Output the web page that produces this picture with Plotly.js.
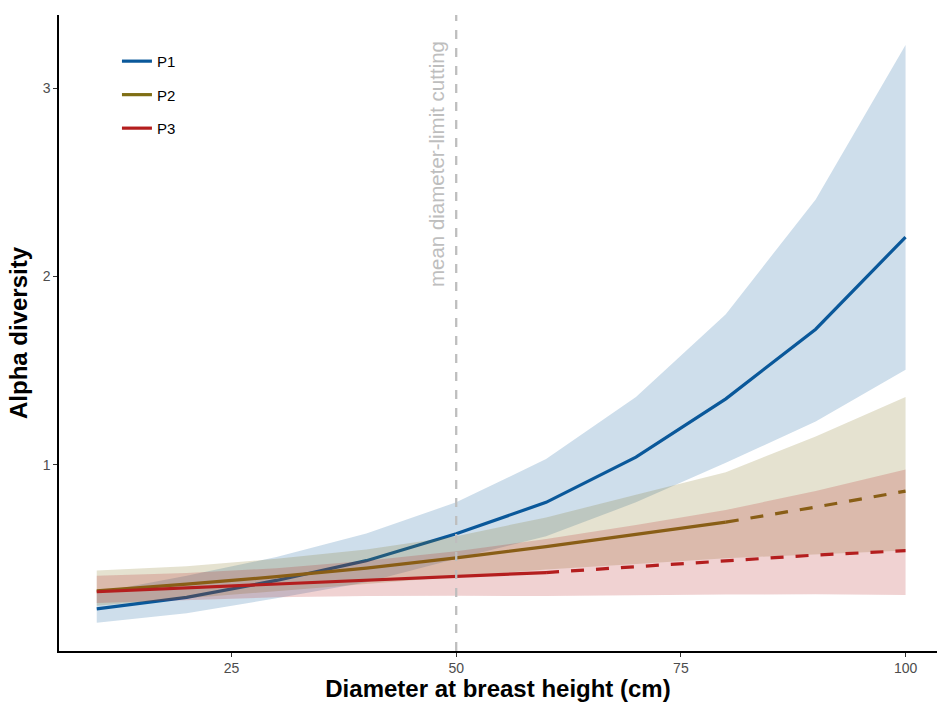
<!DOCTYPE html>
<html>
<head>
<meta charset="utf-8">
<script src="https://cdn.plot.ly/plotly-3.0.1.min.js"></script>
<style>html,body{margin:0;padding:0;background:#fff;}#chart{width:938px;height:702px;}</style>
</head>
<body>
<div id="chart"></div>
<script>
// Diameter at breast height (cm)
const dbh = [10, 20, 30, 40, 50, 60, 70, 80, 90, 100];

// P1
const p1Fit   = [0.234, 0.295, 0.385, 0.49, 0.633, 0.80, 1.04, 1.35, 1.72, 2.21];
const p1Upper = [0.32, 0.41, 0.51, 0.635, 0.80, 1.03, 1.36, 1.80, 2.41, 3.23];
const p1Lower = [0.16, 0.21, 0.29, 0.375, 0.50, 0.62, 0.80, 1.01, 1.23, 1.505];

// P2
const p2Fit   = [0.33, 0.365, 0.405, 0.45, 0.505, 0.565, 0.63, 0.695, 0.775, 0.86];
const p2Upper = [0.438, 0.46, 0.50, 0.55, 0.62, 0.72, 0.84, 0.96, 1.15, 1.36];
const p2Lower = [0.25, 0.29, 0.328, 0.368, 0.405, 0.443, 0.472, 0.503, 0.522, 0.544];

// P3
const p3Fit   = [0.325, 0.345, 0.365, 0.385, 0.404, 0.427, 0.457, 0.486, 0.52, 0.543];
const p3Upper = [0.41, 0.425, 0.45, 0.49, 0.54, 0.605, 0.68, 0.76, 0.86, 0.975];
const p3Lower = [0.265, 0.28, 0.295, 0.302, 0.303, 0.302, 0.306, 0.31, 0.312, 0.308];

// last DBH value of the solid (observed-range) part of each line
const solidUntil = {P1: 100, P2: 80, P3: 60};

const seriesNames = ["P1", "P2", "P3"];
const colors = {P1: "rgb(10,88,154)", P2: "rgb(127,110,20)", P3: "rgb(180,30,30)"};
const fills  = {P1: "rgba(10,88,154,0.2)", P2: "rgba(127,110,20,0.2)", P3: "rgba(180,30,30,0.2)"};

const fits = {P1: p1Fit, P2: p2Fit, P3: p3Fit};
const ups  = {P1: p1Upper, P2: p2Upper, P3: p3Upper};
const lows = {P1: p1Lower, P2: p2Lower, P3: p3Lower};

const traces = [];
seriesNames.forEach(function(name){
  // ribbon
  traces.push({
    x: dbh.concat(dbh.slice().reverse()),
    y: ups[name].concat(lows[name].slice().reverse()),
    type: "scatter", mode: "lines", fill: "toself",
    fillcolor: fills[name], line: {width: 0, color: "rgba(0,0,0,0)"},
    hoverinfo: "skip", showlegend: false, legendgroup: name
  });
  const solidX = [], solidY = [], dashX = [], dashY = [];
  dbh.forEach(function(d, i){
    if (d <= solidUntil[name]) { solidX.push(d); solidY.push(fits[name][i]); }
    if (d >= solidUntil[name]) { dashX.push(d); dashY.push(fits[name][i]); }
  });
  traces.push({
    x: solidX, y: solidY, type: "scatter", mode: "lines", name: name,
    legendgroup: name,
    line: {color: colors[name], width: 3.2}
  });
  if (dashX.length > 1) {
    traces.push({
      x: dashX, y: dashY, type: "scatter", mode: "lines", name: name,
      legendgroup: name, showlegend: false,
      line: {color: colors[name], width: 3.2, dash: "13px,12px"}
    });
  }
});

const layout = {
  width: 938, height: 702,
  margin: {l: 59, r: 1, t: 15, b: 51},
  paper_bgcolor: "#fff", plot_bgcolor: "#fff",
  font: {family: "Liberation Sans, Arial, sans-serif", color: "#000"},
  showlegend: true,
  legend: {
    x: 0.066, y: 0.953, xanchor: "left", yanchor: "top",
    bgcolor: "rgba(0,0,0,0)", font: {size: 15, color: "#000"},
    tracegroupgap: 11, traceorder: "grouped"
  },
  xaxis: {
    range: [5.8, 103.5], tickvals: [25, 50, 75, 100],
    ticks: "outside", ticklen: 4, tickwidth: 1.2, tickcolor: "#333",
    tickfont: {size: 14, color: "#4D4D4D"},
    showline: true, linecolor: "#000", linewidth: 1.6,
    showgrid: false, zeroline: false,
    title: {text: "Diameter at breast height (cm)", font: {size: 24, color: "#000", family: "Liberation Sans, Arial, sans-serif", weight: "bold"}, standoff: 10}
  },
  yaxis: {
    range: [0.01, 3.39], tickvals: [1, 2, 3],
    ticks: "outside", ticklen: 4, tickwidth: 1.2, tickcolor: "#333",
    tickfont: {size: 14, color: "#4D4D4D"},
    showline: true, linecolor: "#000", linewidth: 1.6,
    showgrid: false, zeroline: false,
    title: {text: "Alpha diversity", font: {size: 24, color: "#000", family: "Liberation Sans, Arial, sans-serif", weight: "bold"}, standoff: 8}
  },
  shapes: [{
    type: "line", xref: "x", yref: "paper", x0: 50, x1: 50, y0: 0, y1: 1,
    line: {color: "#BEBEBE", width: 2.3, dash: "9px,9px"}, layer: "above"
  }],
  annotations: [{
    text: "mean diameter-limit cutting", xref: "x", yref: "y",
    x: 47.8, y: 2.6, textangle: -90, showarrow: false,
    xanchor: "center", yanchor: "middle",
    font: {size: 20.5, color: "#BEBEBE", family: "Liberation Sans, Arial, sans-serif"}
  }]
};

Plotly.newPlot("chart", traces, layout, {displayModeBar: false, staticPlot: true});
</script>
</body>
</html>
